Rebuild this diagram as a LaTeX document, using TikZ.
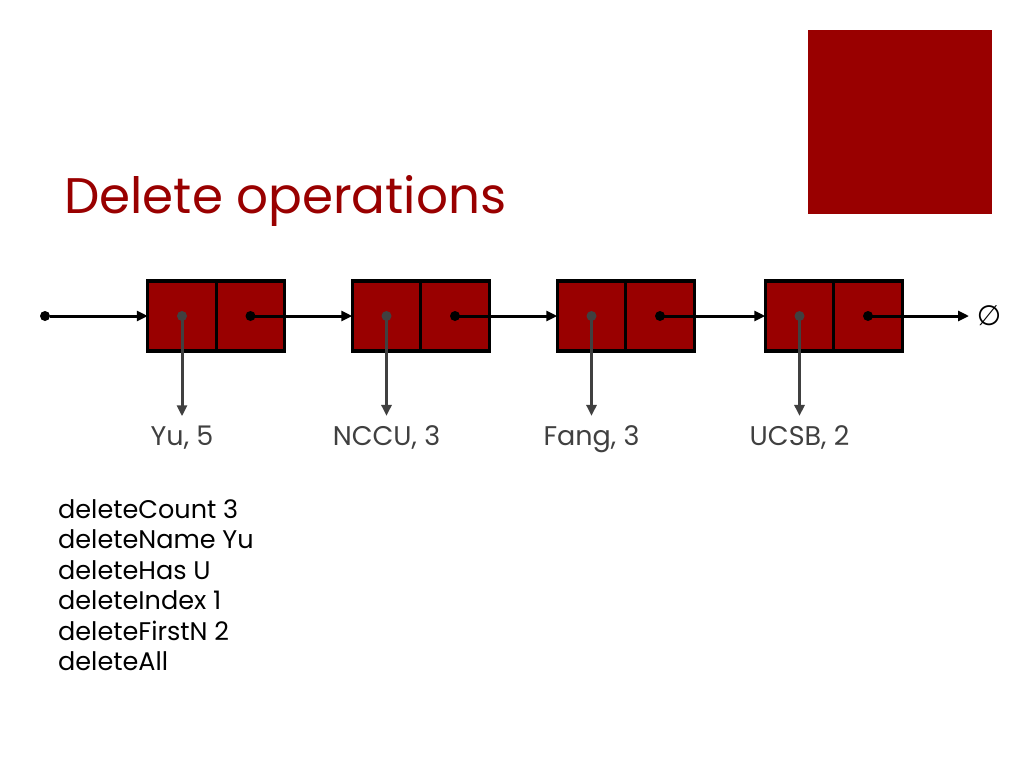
\documentclass[tikz,border=0pt]{standalone}
\usepackage{fontspec}
\setmainfont{Poppins}
\newfontfamily\symfont{DejaVu Sans}
\usetikzlibrary{arrows.meta}
\definecolor{dred}{HTML}{990000}
\definecolor{dgray}{HTML}{404040}
\tikzset{
  cell/.style={draw=black, line width=3.2pt, fill=dred, minimum width=68.5pt, minimum height=70pt, inner sep=0pt, outer sep=0pt},
  link/.style={line width=3pt, -{Triangle[length=11pt,width=10pt]}},
  datalink/.style={line width=3pt, draw=dgray, -{Triangle[length=11pt,width=10pt]}},
  bigdot/.style={circle, fill=black, minimum size=10pt, inner sep=0pt},
  graydot/.style={circle, fill=dgray, minimum size=10pt, inner sep=0pt},
  lab/.style={font=\fontsize{27}{30}\selectfont, text=dgray, anchor=base, inner sep=0pt, inner ysep=9pt},
  item/.style={font=\fontsize{25.5}{30}\selectfont, text=black, anchor=base west, inner sep=0pt}
}
\begin{document}
\begin{tikzpicture}[x=1pt,y=-1pt]
\useasboundingbox (0,0) rectangle (1024,768);
% corner square
\node[fill=dred, minimum width=184pt, minimum height=184pt, inner sep=0pt, anchor=north west] (sq) at (808,30) {};
% title
\node[anchor=base west, inner sep=0pt, text=dred, font=\fontsize{50}{58}\selectfont] (title) at (64,213) {Delete operations};
% cells
\foreach \i/\x in {1/182,2/386.5,3/591.5,4/799.5}{
  \node[cell] (d\i) at (\x,316) {};
  \node[cell, anchor=west] (n\i) at (d\i.east) {};
}
% dots
\foreach \i in {1,2,3,4}{
  \node[graydot] (gd\i) at (d\i.center) {};
  \node[bigdot] (bd\i) at (n\i.center) {};
}
\node[bigdot] (start) at (45,316) {};
\coordinate (nullend) at (969,316);
\node[inner sep=0pt, font=\symfont\fontsize{28}{30}\selectfont, anchor=center] (null) at (989,316) {∅};
% labels
\node[lab] (l1) at (182,445) {Yu, 5};
\node[lab] (l2) at (386.5,445) {NCCU, 3};
\node[lab] (l3) at (591.5,445) {Fang, 3};
\node[lab] (l4) at (799.5,445) {UCSB, 2};
% links
\draw[link] (start) -- (d1.west);
\draw[link] (bd1.center) -- (d2.west);
\draw[link] (bd2.center) -- (d3.west);
\draw[link] (bd3.center) -- (d4.west);
\draw[link] (bd4.center) -- (nullend);
\foreach \i in {1,2,3,4}{
  \draw[datalink] (gd\i.center) -- (l\i.north);
}
% operations list
\node[item] (o1) at (58,518) {deleteCount 3};
\node[item] (o2) at (58,548.5) {deleteName Yu};
\node[item] (o3) at (58,579) {deleteHas U};
\node[item] (o4) at (58,609.5) {deleteIndex 1};
\node[item] (o5) at (58,640) {deleteFirstN 2};
\node[item] (o6) at (58,670.5) {deleteAll};
\end{tikzpicture}
\end{document}
